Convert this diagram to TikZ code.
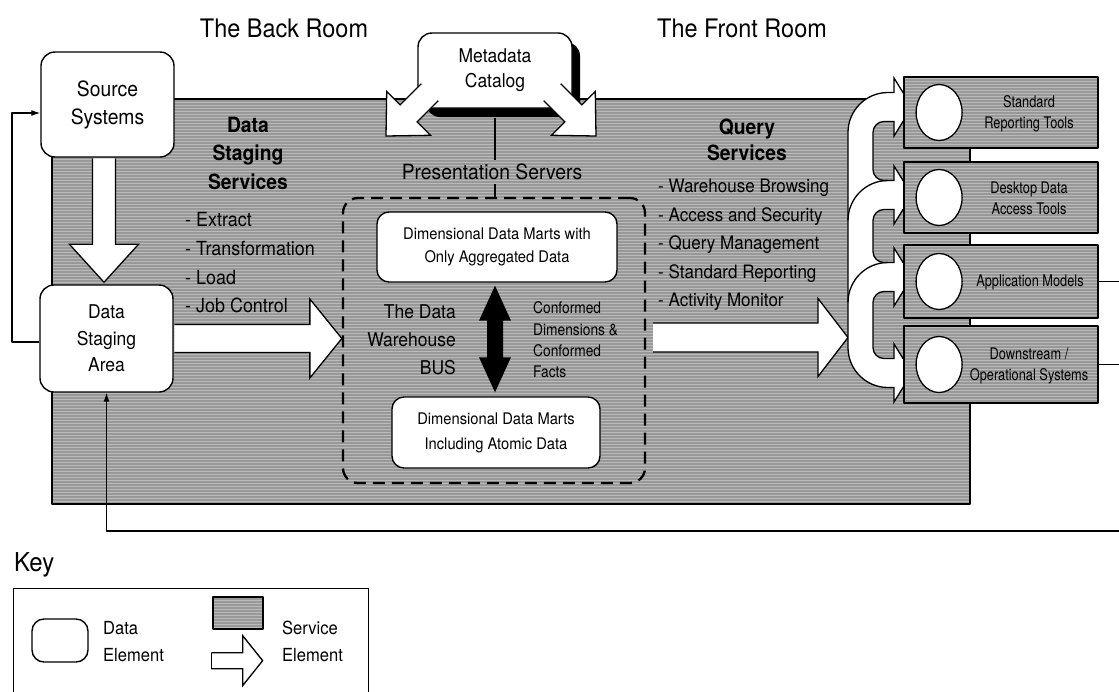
\documentclass[tikz,border=0pt]{standalone}
\usepackage{fontspec}
\setmainfont{TeX Gyre Heros}[FakeStretch=0.92]
\newfontfamily\toolfont{TeX Gyre Heros}[FakeStretch=0.8]
\newfontfamily\narrowfont{TeX Gyre Heros}[FakeStretch=0.86]
\usetikzlibrary{calc,shapes.geometric,arrows.meta,patterns,shadows}

\definecolor{svc}{RGB}{152,152,152}
\definecolor{svcline}{RGB}{186,186,186}
\newcommand\fsz[2]{\fontsize{#1}{#2}\selectfont}

% block arrow from tail #1 to tip #2: shaft half width #3, head half width #4, head length #5
% (the tail end is left open so it can merge into the element it leaves)
\newcommand\fatarrow[5]{%
  \coordinate (fa-b) at ($(#2)!#5!(#1)$);
  \coordinate (fa-1) at ($(#1)!#3!90:(#2)$);
  \coordinate (fa-2) at ($(fa-b)!#3!90:(#2)$);
  \coordinate (fa-3) at ($(fa-b)!#4!90:(#2)$);
  \coordinate (fa-4) at ($(fa-b)!#4!-90:(#2)$);
  \coordinate (fa-5) at ($(fa-b)!#3!-90:(#2)$);
  \coordinate (fa-6) at ($(#1)!#3!-90:(#2)$);
  \fill[white] (fa-1) -- (fa-2) -- (fa-3) -- (#2) -- (fa-4) -- (fa-5) -- (fa-6) -- cycle;
  \draw[outline] (fa-1) -- (fa-2) -- (fa-3) -- (#2) -- (fa-4) -- (fa-5) -- (fa-6);
}

\begin{document}
\begin{tikzpicture}[x=1pt,y=-1pt,line join=round,
  outline/.style={line width=1.3pt,line join=miter},
  service/.style={preaction={fill=svc},pattern=horizontal lines,pattern color=svcline},
  databox/.style={draw,fill=white,rounded corners=14pt,line width=1.4pt,align=center,inner sep=0pt},
  toolbox/.style={service,draw,line width=1.8pt,minimum width=194pt,inner sep=0pt},
  hole/.style={ellipse,draw,fill=white,line width=1.3pt,minimum width=46pt,minimum height=56pt,inner sep=0pt},
  lbl/.style={inner sep=0pt,align=center},
  fb/.style={line width=1.2pt},
  fbarrow/.style={-{Latex[length=9pt,width=6pt]}}
]
\useasboundingbox (0,0) rectangle (1119,691);
\clip (0,0) rectangle (1119,691);

% service area
\node[service,draw,line width=1.3pt,minimum width=918pt,minimum height=405pt,inner sep=0pt] (area) at (511,301.5) {};

% room titles
\node[lbl,font=\fsz{25.5}{30}] (back) at (284,28) {The Back Room};
\node[lbl,font=\fsz{25.5}{30}] (front) at (742,28) {The Front Room};

% source systems and data staging area
\node[databox,minimum width=133pt,minimum height=105pt,font=\fsz{21}{28}] (src) at (107.5,104.5) {Source\\Systems};
\node[databox,minimum width=133pt,minimum height=107pt,font=\fsz{19}{26.5}] (dsa) at (106.5,338.5) {Data\\Staging\\Area};

% presentation servers: dashed bus with the data marts
\node[draw,dash pattern=on 12pt off 7pt,line width=2.3pt,rounded corners=15pt,minimum width=302pt,minimum height=285pt,inner sep=0pt] (bus) at (494,340.5) {};
\node[databox,rounded corners=12pt,minimum width=240pt,minimum height=70pt,font=\fsz{16}{23}] (mart1) at (497,247) {Dimensional Data Marts with\\Only Aggregated Data};
\node[databox,rounded corners=12pt,minimum width=208pt,minimum height=71pt,font=\fsz{16}{25}] (mart2) at (496,432.5) {Dimensional Data Marts\\Including Atomic Data};

% extract / load arrows
\coordinate (dnA) at ($(src.south)+(-3.5,0.7)$);
\coordinate (dnB) at ($(dsa.north)+(-2.5,-2)$);
\fatarrow{dnA}{dnB}{11.5pt}{34.5pt}{38pt}
\coordinate (stA) at ($(dsa.east)+(0.7,0)$);
\coordinate (stB) at (dsa.east -| bus.west);
\fatarrow{stA}{stB}{14pt}{39.5pt}{32pt}

% metadata catalog
\node[databox,minimum width=154pt,minimum height=75pt,font=\fsz{19}{25},
  drop shadow={shadow xshift=8pt,shadow yshift=-9pt,fill=black,opacity=1}] (meta) at (495,70.5) {Metadata\\Catalog};
\coordinate (mlA) at ($(meta.center)+(-65.2,21.7)$);
\coordinate (mlB) at ($(meta.center)+(-109,65.5)$);
\fatarrow{mlA}{mlB}{12pt}{31pt}{32pt}
\coordinate (mrA) at ($(meta.center)+(57.2,21.7)$);
\coordinate (mrB) at ($(meta.center)+(101,65.5)$);
\fatarrow{mrA}{mrB}{12pt}{31pt}{32pt}

\node[lbl,inner ysep=4pt,font=\fsz{21}{25}] (pres) at (492,172) {Presentation Servers};
\draw[fb] ($(meta.south)+(0,9)$) -- (meta.south |- pres.north);
\draw[fb] (meta.south |- pres.south) -- (meta.south |- bus.north);

% the bus arrow between the marts
\coordinate (busT) at ($(mart1.south)+(-2,3)$);
\coordinate (busB) at ($(mart2.north)+(-1,-4)$);
\fill (busT) -- ($(busT)+(16,35)$) -- ($(busT)+(8,35)$) -- ($(busB)+(8,-35)$) -- ($(busB)+(16,-35)$)
  -- (busB) -- ($(busB)+(-16,-35)$) -- ($(busB)+(-8,-35)$) -- ($(busT)+(-8,35)$) -- ($(busT)+(-16,35)$) -- cycle;
\node[lbl,align=right,anchor=east,font=\fsz{19}{28}] (wbus) at (456,340) {The Data\\Warehouse\\BUS};
\node[lbl,align=left,anchor=west,font=\narrowfont\fsz{16}{21.3}] (conf) at (533,340) {Conformed\\Dimensions \&\\Conformed\\Facts};

% service descriptions
\node[lbl,font=\bfseries\fsz{21}{28.5}] (dss) at (248,153) {Data\\Staging\\Services};
\node[lbl,align=left,anchor=west,font=\fsz{19.5}{28.7}] (dssl) at (185,263) {- Extract\\- Transformation\\- Load\\- Job Control};
\node[lbl,font=\bfseries\fsz{21}{26}] (qs) at (747,140) {Query\\Services};
\node[lbl,align=left,anchor=west,font=\fsz{18.5}{28.5}] (qsl) at (658,245) {- Warehouse Browsing\\- Access and Security\\- Query Management\\- Standard Reporting\\- Activity Monitor};

% query arrow into the fan-out
\coordinate (fan) at (848,337.5);
\coordinate (qA) at ($(bus.east)+(7,-3)$);
\fatarrow{qA}{fan}{14.5pt}{39pt}{30pt}

% fan-out of curved arrows towards the front-room tools
\filldraw[fill=white,outline]
  (894,92.5) -- (888,92.5)
  .. controls (865.9,92.5) and (848,110.4) .. (848,132.5)
  -- (848,347.5)
  .. controls (848,369.6) and (865.9,387.5) .. (888,387.5)
  -- (894,387.5) -- (894,402) -- (912,373) -- (894,344) -- (894,358.5) -- (884,358.5)
  .. controls (877.9,358.5) and (873,353.6) .. (873,347.5)
  -- (873,302.5)
  .. controls (873,296.4) and (877.9,291.5) .. (884,291.5)
  -- (894,291.5) -- (894,306) -- (912,277) -- (894,248) -- (894,262.5) -- (884,262.5)
  .. controls (877.9,262.5) and (873,257.6) .. (873,251.5)
  -- (873,220.5)
  .. controls (873,214.4) and (877.9,209.5) .. (884,209.5)
  -- (894,209.5) -- (894,224) -- (912,195) -- (894,166) -- (894,180.5) -- (884,180.5)
  .. controls (877.9,180.5) and (873,175.6) .. (873,169.5)
  -- (873,132.5)
  .. controls (873,126.4) and (877.9,121.5) .. (884,121.5)
  -- (894,121.5) -- (894,136) -- (912,107) -- (894,78) -- cycle;
\draw[outline] (848,220.5) .. controls (848,198.4) and (865.9,180.5) .. (888,180.5);
\draw[outline] (848,302.5) .. controls (848,280.4) and (865.9,262.5) .. (888,262.5);

% front-room tools
\node[toolbox,minimum height=71pt] (tool1) at (1001,112.5) {};
\node[toolbox,minimum height=71pt] (tool2) at (1001,197.5) {};
\node[toolbox,minimum height=73pt] (tool3) at (1001,281.5) {};
\node[toolbox,minimum height=77pt] (tool4) at (1001,364.5) {};
\node[hole] (hole1) at ($(tool1.west)+(36,0)$) {};
\node[hole] (hole2) at ($(tool2.west)+(36,0)$) {};
\node[hole] (hole3) at ($(tool3.west)+(36,0)$) {};
\node[hole] (hole4) at ($(tool4.west)+(36,0)$) {};
\node[lbl,font=\toolfont\fsz{16}{21}] (lab1) at ($(tool1.center)+(28,1)$) {Standard\\Reporting Tools};
\node[lbl,font=\toolfont\fsz{16}{21}] (lab2) at ($(tool2.center)+(28,1)$) {Desktop Data\\Access Tools};
\node[lbl,font=\toolfont\fsz{16}{21}] (lab3) at ($(tool3.center)+(29,1)$) {Application Models};
\node[lbl,font=\toolfont\fsz{16}{21}] (lab4) at ($(tool4.center)+(28,1)$) {Downstream /\\Operational Systems};

% feedback connections
\coordinate (fbL) at (12,342);
\draw[fb,fbarrow] ($(dsa.west)+(0,3.5)$) -- (fbL) |- ($(src.west)+(0,8.5)$);
\coordinate (fbR) at (1119,531);
\draw[fb,fbarrow] (fbR) -| (dsa.south);
\draw[fb] (tool3.east) -- ++(25,0);
\draw[fb] (tool4.east) -- ++(25,0);

% key
\node[lbl,anchor=west,font=\fsz{26}{30}] (key) at (14,565) {Key};
\node[draw,line width=1.3pt,minimum width=355pt,minimum height=130pt,anchor=north west,inner sep=0pt] (keybox) at (13,588) {};
\node[databox,rounded corners=12pt,minimum width=56pt,minimum height=43pt] (kdata) at (60,640.5) {};
\node[lbl,anchor=west,align=left,font=\fsz{18}{27}] (kdatat) at (103,641.5) {Data\\Element};
\node[service,draw,line width=1.3pt,minimum width=50pt,minimum height=32pt,inner sep=0pt] (ksvc) at (238,613) {};
\coordinate (kA) at ($(ksvc.south west)+(-1,31)$);
\coordinate (kB) at ($(ksvc.south east)+(-1,31)$);
\fatarrow{kA}{kB}{8pt}{25pt}{20pt}
\draw[outline] (fa-1) -- (fa-6);
\node[lbl,anchor=west,align=left,font=\fsz{18}{27}] (ksvct) at (282,641.5) {Service\\Element};
\end{tikzpicture}
\end{document}
